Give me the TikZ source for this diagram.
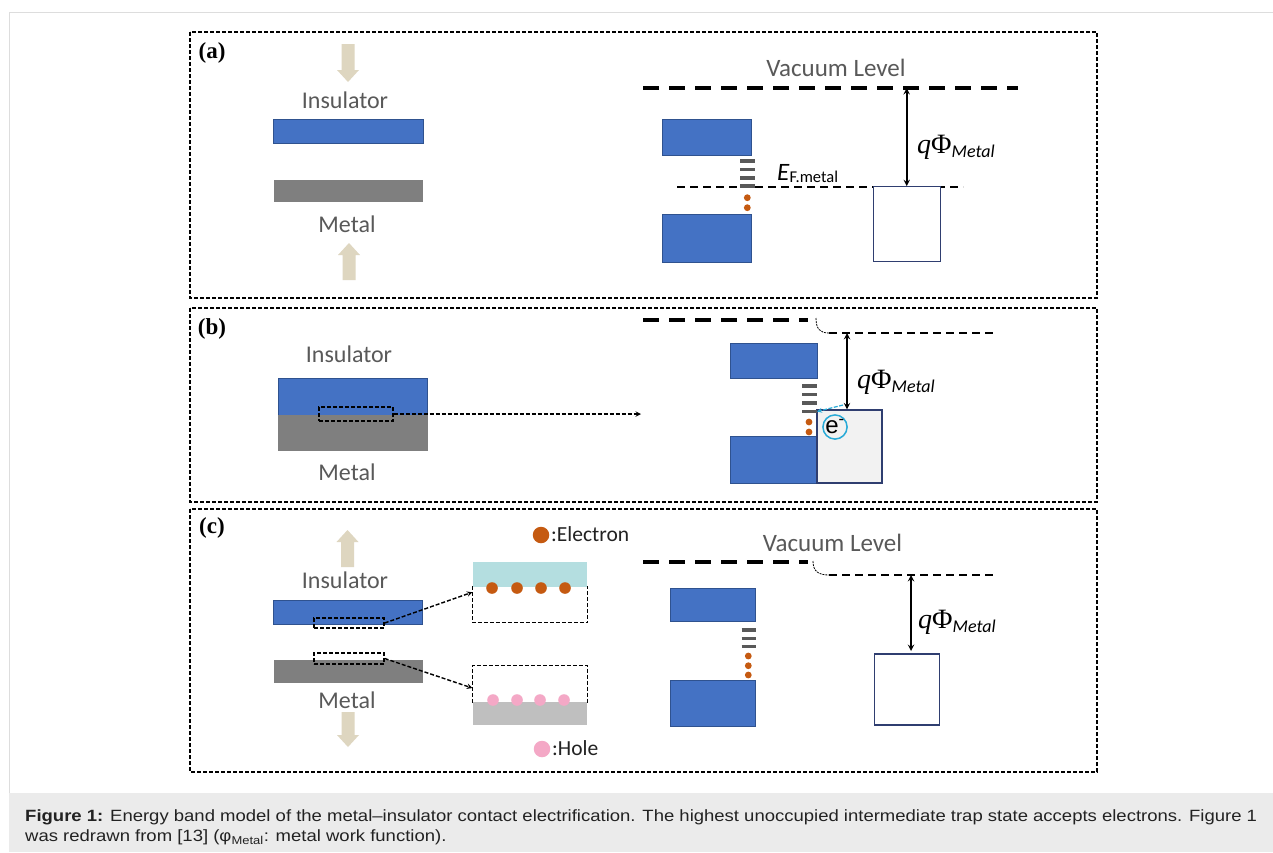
\documentclass[tikz,border=0pt]{standalone}
\usepackage{amsmath}
\usepackage{fontspec}
\setmainfont{Carlito}
\newfontfamily\captionfont{Liberation Sans}
\newfontfamily\tagfont{Liberation Serif}
\usepackage{tikz}
\usetikzlibrary{arrows,shapes,positioning}
\usepackage{xcolor}
\definecolor{bandblue}{RGB}{68,114,196}
\definecolor{bandedge}{RGB}{47,82,143}
\definecolor{metalgray}{RGB}{127,127,127}
\definecolor{pushtan}{RGB}{222,214,192}
\definecolor{labelgray}{RGB}{89,89,89}
\definecolor{trapgray}{RGB}{89,89,89}
\definecolor{electron}{RGB}{197,90,17}
\definecolor{hole}{RGB}{244,168,198}
\definecolor{navyedge}{RGB}{47,62,112}
\definecolor{contactgray}{RGB}{242,242,242}
\definecolor{lightcyan}{RGB}{180,222,224}
\definecolor{holegray}{RGB}{191,191,191}
\definecolor{ecyan}{RGB}{40,170,215}
\definecolor{capbg}{RGB}{235,235,235}
\definecolor{captext}{RGB}{34,34,34}
\definecolor{framegray}{RGB}{221,221,221}
\tikzstyle{panel} = [draw=black, dash pattern=on 4pt off 2pt, line width=1.3pt]
\tikzstyle{vacuum} = [line width=3.2pt, dash pattern=on 16pt off 10pt]
\tikzstyle{fermi} = [line width=1.8pt, dash pattern=on 8pt off 5pt]
\tikzstyle{gap} = [<->, >=stealth, line width=1.8pt]
\tikzstyle{trap} = [trapgray, line width=3.5pt]
\newcommand{\pushdown}[3]{\fill[pushtan] (#1-6.5,#2) -- (#1+6.5,#2) -- (#1+6.5,#3-12) -- (#1+11,#3-12) -- (#1,#3) -- (#1-11,#3-12) -- (#1-6.5,#3-12) -- cycle;}
\newcommand{\pushup}[3]{\fill[pushtan] (#1-6.5,#2) -- (#1+6.5,#2) -- (#1+6.5,#3+12) -- (#1+11,#3+12) -- (#1,#3) -- (#1-11,#3+12) -- (#1-6.5,#3+12) -- cycle;}
\newcommand{\workfn}{{\tagfont\fontsize{28}{28}\selectfont\textit{q}Φ}\raisebox{-4pt}{\fontsize{18}{18}\selectfont\textit{Metal}}}

\begin{document}
\begin{tikzpicture}[x=1pt, y=-1pt,
    band/.style={rectangle, draw=bandedge, fill=bandblue, line width=0.8pt, inner sep=0pt},
    slab/.style={rectangle, draw=metalgray, fill=metalgray, line width=0.6pt, inner sep=0pt},
    metalband/.style={rectangle, draw=navyedge, fill=white, line width=1.2pt, inner sep=0pt},
    zoombox/.style={rectangle, dash pattern=on 4pt off 2pt, line width=1.4pt, inner sep=0pt},
    zoomarrow/.style={->, >=stealth, dash pattern=on 4pt off 2pt, line width=1.4pt},
    hop/.style={->, >=stealth, ecyan, line width=1.2pt, dash pattern=on 4pt off 1.5pt},
    drop/.style={line width=0.8pt, dash pattern=on 2pt off 1pt},
    matlabel/.style={text=labelgray, font=\fontsize{24}{24}\selectfont, inner sep=0pt, anchor=base},
    vaclabel/.style={text=labelgray, font=\fontsize{25}{25}\selectfont, inner sep=0pt, anchor=base},
    tag/.style={font=\tagfont\bfseries\fontsize{23}{23}\selectfont, inner sep=0pt},
    work/.style={inner sep=0pt, anchor=base west},
    legend/.style={text=captext, font=\fontsize{21.5}{21.5}\selectfont, inner sep=0pt, anchor=base west},
    captionline/.style={anchor=base west, inner sep=0pt, text=captext, font=\captionfont\fontsize{16.3}{16.3}\selectfont}]

\fill[white] (0,0) rectangle (1273,852);
\useasboundingbox (0,0) rectangle (1273,852);

% Outer frame and caption
\draw[framegray, line width=1pt] (9,793) -- (9,12) -- (1273,12);
\fill[capbg] (9,793) rectangle (1273,852);
\node[captionline] (caption1) at (25,821.7) {\scalebox{1.135}[1]{\textbf{Figure 1:} Energy band model of the metal–insulator contact electrification. The highest unoccupied intermediate trap state accepts electrons. Figure 1}};
\node[captionline] (caption2) at (25,841.5) {\scalebox{1.135}[1]{was redrawn from [13] (φ\textsubscript{Metal}: metal work function).}};

% Panels
\draw[panel] (190,32) rectangle (1097,298);
\draw[panel] (190,308) rectangle (1097,502);
\draw[panel] (190,509) rectangle (1097,772);
\node[tag] (tag-a) at (212,52.5) {(a)};
\node[tag] (tag-b) at (212,328.5) {(b)};
\node[tag] (tag-c) at (212,527.5) {(c)};

% (a) separated materials
\pushdown{348}{44}{82}
\node[matlabel] (a-ins-label) at (345,108) {Insulator};
\node[band, minimum width=150pt, minimum height=24pt] (a-ins) at (348,131) {};
\node[slab, minimum width=148pt, minimum height=21pt] (a-met) at (348,190.5) {};
\node[matlabel] (a-met-label) at (347,232) {Metal};
\pushup{349}{280}{243}

% (a) band diagram
\node[vaclabel] (a-vac-label) at (836,76) {Vacuum Level};
\draw[vacuum] (643,88) -- (1018,88);
\node[band, minimum width=89pt, minimum height=36pt] (a-cb) at (706.5,137) {};
\node[band, minimum width=89pt, minimum height=48pt] (a-vb) at (706.5,238) {};
\foreach \y in {161,169.5,178}
    \draw[trap] (740,\y) -- (755,\y);
\draw[fermi] (677,187) -- (963,187);
\draw[trap] (740,186) -- (755,186);
\fill[electron] (747.3,197.7) circle (3.4pt);
\fill[electron] (747.3,207.7) circle (3.4pt);
\node[anchor=base west, inner sep=0pt] (a-ef) at (777,180.7) {\fontsize{25}{25}\selectfont\textit{E}\raisebox{-1.5pt}{\fontsize{16.5}{16.5}\selectfont F.metal}};
\node[metalband, minimum width=67pt, minimum height=75pt] (a-metal) at (906.7,224.2) {};
\coordinate (a-vac) at (906.7,88);
\draw[gap] (a-vac) -- (a-metal.north);
\node[work] (a-phi) at (917,153) {\workfn};

% (b) contact
\node[matlabel] (b-ins-label) at (349,362) {Insulator};
\node[band, minimum width=149pt, minimum height=37pt] (b-ins) at (352.5,396.5) {};
\node[slab, minimum width=149pt, minimum height=35pt] (b-met) at (352.5,432.5) {};
\node[zoombox, draw=black, minimum width=74pt, minimum height=14pt] (b-zoom) at (356,414) {};
\node[matlabel] (b-met-label) at (347,480) {Metal};
\coordinate (b-target) at (641,414);
\draw[zoomarrow] (b-zoom.east) -- (b-target);

% (b) band diagram
\draw[vacuum] (643,320) -- (808,320);
\draw[drop] (816,318) .. controls (816,329) and (820,333) .. (829,333);
\draw[fermi] (829,333) -- (993,333);
\node[band, minimum width=87pt, minimum height=35pt] (b-cb) at (773.5,360.5) {};
\node[band, minimum width=87pt, minimum height=47pt] (b-vb) at (773.5,459.5) {};
\node[metalband, fill=contactgray, minimum width=65pt, minimum height=73pt] (b-metal) at (849.5,446.5) {};
\foreach \y in {386,394.5,403,411.5}
    \draw[trap] (802,\y) -- (817,\y);
\fill[electron] (809,422) circle (3.4pt);
\fill[electron] (809,432) circle (3.4pt);
\coordinate (b-vac) at (847,333);
\draw[gap] (b-vac) -- (b-vac |- b-metal.north);
\node[work] (b-phi) at (857,388) {\workfn};
\node[circle, draw=ecyan, line width=1.5pt, minimum size=23pt, inner sep=0pt, font=\captionfont\fontsize{24}{24}\selectfont] (b-e) at (835,427) {e\textsuperscript{-}};
\coordinate (b-etail) at (843,405);
\coordinate (b-trap) at (817,411.5);
\draw[hop] (b-etail) -- (b-trap);

% (c) separated after contact
\pushup{347.5}{567}{530}
\node[matlabel] (c-ins-label) at (345,588) {Insulator};
\node[band, minimum width=149pt, minimum height=24pt] (c-ins) at (347.5,612) {};
\node[slab, minimum width=148pt, minimum height=22pt] (c-met) at (348,671) {};
\node[zoombox, draw=black, minimum width=70pt, minimum height=10pt] (c-ins-zoom) at (349,623) {};
\node[zoombox, draw=black, minimum width=70pt, minimum height=11pt] (c-met-zoom) at (349,658.5) {};
\node[matlabel] (c-met-label) at (347,708) {Metal};
\pushdown{348}{712}{747}

% (c) charged surfaces
\node[zoombox, minimum width=114pt, minimum height=35pt] (c-up-box) at (530,604.5) {};
\draw[dash pattern=on 4pt off 2pt, line width=1.4pt] (c-up-box.north west) -- (c-up-box.south west) -- (c-up-box.south east) -- (c-up-box.north east);
\node[rectangle, fill=lightcyan, minimum width=114pt, minimum height=25pt, inner sep=0pt] (c-up-ins) at (530,574.5) {};
\foreach \x in {492,517,541,565}
    \fill[electron] (\x,588) circle (5.8pt);
\node[zoombox, minimum width=114pt, minimum height=36pt] (c-dn-box) at (530,684) {};
\draw[dash pattern=on 4pt off 2pt, line width=1.4pt] (c-dn-box.south west) -- (c-dn-box.north west) -- (c-dn-box.north east) -- (c-dn-box.south east);
\node[rectangle, fill=holegray, minimum width=114pt, minimum height=23pt, inner sep=0pt] (c-dn-met) at (530,713.5) {};
\foreach \x in {493,517,540,564}
    \fill[hole] (\x,700) circle (5.8pt);
\draw[zoomarrow] (c-ins-zoom.east) -- (c-up-box.168);
\draw[zoomarrow] (c-met-zoom.east) -- (c-dn-box.184);

% Legend
\node[circle, fill=electron, minimum size=16.5pt, inner sep=0pt] (leg-e) at (541,535) {};
\node[legend] (leg-e-text) at (551,541) {:Electron};
\node[circle, fill=hole, minimum size=16.5pt, inner sep=0pt] (leg-h) at (542,749) {};
\node[legend] (leg-h-text) at (552,755) {:Hole};

% (c) band diagram
\node[vaclabel] (c-vac-label) at (832.5,551.7) {Vacuum Level};
\draw[vacuum] (643,562) -- (808,562);
\draw[drop] (813,561) .. controls (813,571) and (818,575) .. (829,575);
\draw[fermi] (829,575) -- (993,575);
\node[band, minimum width=85pt, minimum height=33pt] (c-cb) at (712.5,605) {};
\node[band, minimum width=85pt, minimum height=46pt] (c-vb) at (712.5,703) {};
\foreach \y in {630,638.3,646.7}
    \draw[trap] (741.5,\y) -- (756,\y);
\foreach \y in {656,665.7,675}
    \fill[electron] (748.3,\y) circle (3.4pt);
\node[metalband, minimum width=65pt, minimum height=71pt] (c-metal) at (906.8,689.5) {};
\coordinate (c-vac) at (911,575);
\coordinate (c-top) at (911,651);
\draw[gap] (c-vac) -- (c-top);
\node[work] (c-phi) at (918,628) {\workfn};
\end{tikzpicture}
\end{document}
